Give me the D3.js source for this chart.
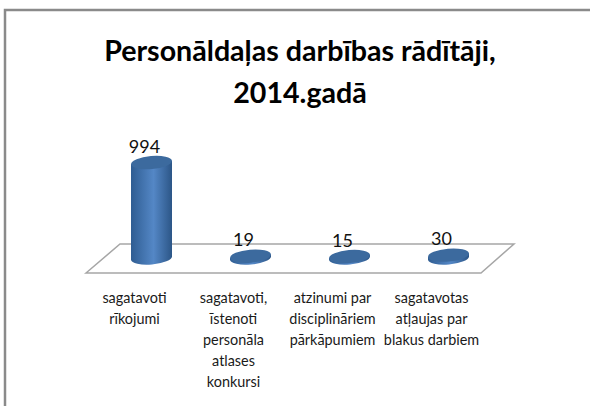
<!DOCTYPE html>
<html>
<head>
<meta charset="utf-8">
<script src="https://cdn.jsdelivr.net/npm/d3@7"></script>
<style>
  html, body { margin: 0; padding: 0; background: #fff; }
  svg { display: block; font-family: Lato, "Open Sans", sans-serif; }
</style>
</head>
<body>
<div id="chart"></div>
<script>
const categories = ["sagatavoti rīkojumi", "sagatavoti, īstenoti personāla atlases konkursi", "atzinumi par disciplināriem pārkāpumiem", "sagatavotas atļaujas par blakus darbiem"];
const values = [994, 19, 15, 30];
const categoryLines = [
  ["sagatavoti", "rīkojumi"],
  ["sagatavoti,", "īstenoti", "personāla", "atlases", "konkursi"],
  ["atzinumi par", "disciplināriem", "pārkāpumiem"],
  ["sagatavotas", "atļaujas par", "blakus darbiem"]
];
const titleLines = ["Personāldaļas darbības rādītāji,", "2014.gadā"];

const width = 590, height = 406;
const svg = d3.select("#chart").append("svg")
  .attr("width", width)
  .attr("height", height);

// chart frame, runs off the right and bottom of the picture
svg.append("rect")
  .attr("x", 5).attr("y", 10)
  .attr("width", 620).attr("height", 440)
  .attr("fill", "#fff")
  .attr("stroke", "#8a8a8a")
  .attr("stroke-width", 2.5);

// Lato is a bit wider than the original face, so squeeze it a little
svg.append("g").selectAll("text")
  .data(titleLines)
  .join("text")
  .attr("transform", (d, i) => `translate(300,${61 + i * 42}) scale(0.97,1)`)
  .attr("text-anchor", "middle")
  .attr("font-size", 29.5)
  .attr("font-weight", 700)
  .attr("fill", "#000")
  .text(d => d);

const xScale = d3.scaleBand().domain(categories).range([102, 498]);
const yScale = d3.scaleLinear().domain([0, 1000]).range([258, 162]);

// floor of the 3d plot
const floorFront = 273, floorBack = 244;
svg.append("path")
  .attr("d", d3.line()([[86, floorFront], [120, floorBack], [514, floorBack], [481, floorFront]]) + "Z")
  .attr("fill", "#fff")
  .attr("stroke", "#a6a6a6")
  .attr("stroke-width", 1.5);

const defs = svg.append("defs");
const bodyGrad = defs.append("linearGradient").attr("id", "cylBody");
bodyGrad.append("stop").attr("offset", "0%").attr("stop-color", "#2f5d92");
bodyGrad.append("stop").attr("offset", "55%").attr("stop-color", "#5487c6");
bodyGrad.append("stop").attr("offset", "100%").attr("stop-color", "#2c5687");

const rx = 20.5, ry = 6.5, tilt = -5;
const bars = svg.append("g").selectAll("g")
  .data(categories.map((c, i) => ({c, v: values[i]})))
  .join("g")
  .attr("transform", d => `translate(${xScale(d.c) + xScale.bandwidth() / 2},0)`);

// side of the cylinder: bottom half ellipse up to the top ellipse
bars.append("path")
  .attr("d", d => {
    const top = yScale(d.v), base = yScale(0);
    const dy = rx * Math.sin(tilt * Math.PI / 180);
    return `M${-rx},${top - dy} L${-rx},${base - dy}` +
      `A${rx},${ry} ${tilt} 0 0 ${rx},${base + dy}` +
      `L${rx},${top + dy} Z`;
  })
  .attr("fill", "url(#cylBody)");

bars.append("ellipse")
  .attr("rx", rx)
  .attr("ry", ry)
  .attr("transform", d => `translate(0,${yScale(d.v)}) rotate(${tilt})`)
  .attr("fill", "#3c6a9e");

bars.append("text")
  .attr("x", -7)
  .attr("y", d => yScale(d.v) - 10)
  .attr("text-anchor", "middle")
  .attr("font-size", 18)
  .attr("fill", "#111")
  .text(d => d.v);

// category labels under the floor
const labels = svg.append("g").selectAll("text")
  .data(categories)
  .join("text")
  .attr("text-anchor", "middle")
  .attr("font-size", 14.4)
  .attr("fill", "#1a1a1a");
labels.selectAll("tspan")
  .data((d, i) => categoryLines[i].map(line => ({line, c: d})))
  .join("tspan")
  .attr("x", d => xScale(d.c) + xScale.bandwidth() / 2 - 17)
  .attr("y", (d, i) => 303 + i * 21)
  .text(d => d.line);
</script>
</body>
</html>
